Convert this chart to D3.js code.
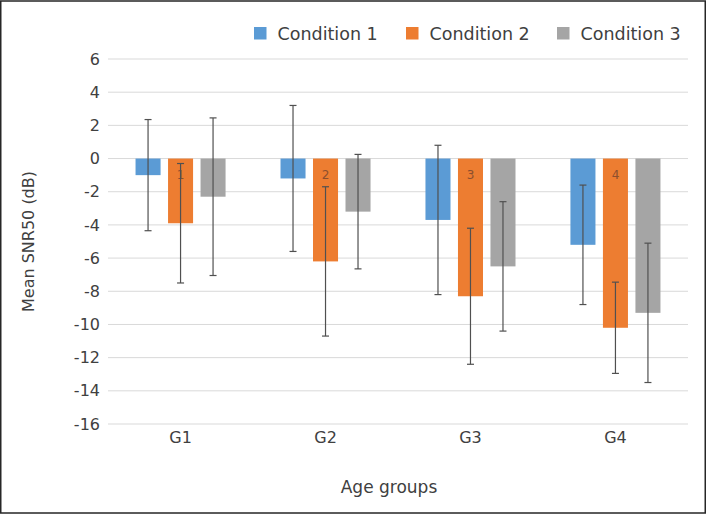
<!DOCTYPE html>
<html>
<head>
<meta charset="utf-8">
<script src="https://cdn.jsdelivr.net/npm/d3@7/dist/d3.min.js"></script>
<style>
	body { margin: 0; background: #fff; }
	svg text { font-family: "DejaVu Sans", sans-serif; fill: #404040; }
</style>
</head>
<body>
<svg id="chart" width="707" height="515"></svg>
<script>
"use strict";

var groups = ["G1", "G2", "G3", "G4"];
var conditions = ["Condition 1", "Condition 2", "Condition 3"];
var colors = ["#5B9BD5", "#ED7D31", "#A5A5A5"];

// mean SNR50 per condition, one entry per age group
var cond1_mean = [-1.0, -1.2, -3.7, -5.2];
var cond2_mean = [-3.9, -6.2, -8.3, -10.2];
var cond3_mean = [-2.3, -3.2, -6.5, -9.3];

// error bar half-widths
var cond1_err = [3.35, 4.4, 4.5, 3.6];
var cond2_err = [3.6, 4.5, 4.1, 2.75];
var cond3_err = [4.75, 3.45, 3.9, 4.2];

// labels printed inside condition 2 bars
var bar_labels = ["1", "2", "3", "4"];

var y_ticks = [6, 4, 2, 0, -2, -4, -6, -8, -10, -12, -14, -16];

var means = [cond1_mean, cond2_mean, cond3_mean];
var errs = [cond1_err, cond2_err, cond3_err];

var svg = d3.select("#chart");
var margin = {left: 108, right: 19, top: 59, bottom: 91};
var width = 707 - margin.left - margin.right;
var height = 515 - margin.top - margin.bottom;

// frame
svg.append("rect")
	.attr("x", 0.75).attr("y", 1)
	.attr("width", 704.5).attr("height", 512)
	.attr("fill", "none")
	.attr("stroke", "#262626")
	.attr("stroke-width", 1.5);

var g = svg.append("g")
	.attr("transform", "translate(" + margin.left + "," + margin.top + ")");

var y = d3.scaleLinear().domain([-16, 6]).range([height, 0]);
var x0 = d3.scaleBand().domain(groups).range([0, width]).paddingInner(0.379).paddingOuter(0.19);
var x1 = d3.scaleBand().domain(d3.range(conditions.length)).range([0, x0.bandwidth()]).paddingInner(0.23);

// gridlines
g.append("g")
	.selectAll("line")
	.data(y_ticks)
	.enter().append("line")
		.attr("x1", 0).attr("x2", width)
		.attr("y1", function(d) { return y(d); })
		.attr("y2", function(d) { return y(d); })
		.attr("stroke", "#d9d9d9")
		.attr("stroke-width", 1);

// y axis labels (plain hyphen for negatives)
var yAxis = d3.axisLeft(y).tickValues(y_ticks).tickSize(0).tickPadding(8)
	.tickFormat(function(d) { return String(d); });
var ya = g.append("g").call(yAxis);
ya.select(".domain").remove();
ya.selectAll("text")
	.style("font-size", "16px")
	.style("font-family", "DejaVu Sans, sans-serif")
	.attr("fill", "#404040");

// x axis labels
var xAxis = d3.axisBottom(x0).tickSize(0).tickPadding(8);
var xa = g.append("g").attr("transform", "translate(0," + height + ")").call(xAxis);
xa.select(".domain").remove();
xa.selectAll("text")
	.style("font-size", "16px")
	.style("font-family", "DejaVu Sans, sans-serif")
	.attr("fill", "#404040");

// bars
var rows = [];
for (var c = 0; c < conditions.length; c++) {
	for (var i = 0; i < groups.length; i++) {
		rows.push({c: c, group: groups[i], i: i, mean: means[c][i], err: errs[c][i]});
	}
}

g.append("g")
	.selectAll("rect")
	.data(rows)
	.enter().append("rect")
		.attr("x", function(d) { return x0(d.group) + x1(d.c); })
		.attr("width", x1.bandwidth())
		.attr("y", function(d) { return y(Math.max(0, d.mean)); })
		.attr("height", function(d) { return Math.abs(y(d.mean) - y(0)); })
		.attr("fill", function(d) { return colors[d.c]; });

// labels inside condition 2 bars
g.append("g")
	.selectAll("text")
	.data(groups)
	.enter().append("text")
		.attr("x", function(d) { return x0(d) + x1(1) + x1.bandwidth() / 2; })
		.attr("y", y(0) + 20)
		.attr("text-anchor", "middle")
		.style("font-size", "12px")
		.style("fill", "#8c4f2e")
		.text(function(d, i) { return bar_labels[i]; });

// error bars
var eb = g.append("g")
	.selectAll("g")
	.data(rows)
	.enter().append("g")
		.attr("stroke", "#505050")
		.attr("stroke-width", 1.2);
eb.append("line")
	.attr("x1", function(d) { return x0(d.group) + x1(d.c) + x1.bandwidth() / 2; })
	.attr("x2", function(d) { return x0(d.group) + x1(d.c) + x1.bandwidth() / 2; })
	.attr("y1", function(d) { return y(d.mean + d.err); })
	.attr("y2", function(d) { return y(d.mean - d.err); });
[1, -1].forEach(function(s) {
	eb.append("line")
		.attr("x1", function(d) { return x0(d.group) + x1(d.c) + x1.bandwidth() / 2 - 3.5; })
		.attr("x2", function(d) { return x0(d.group) + x1(d.c) + x1.bandwidth() / 2 + 3.5; })
		.attr("y1", function(d) { return y(d.mean + s * d.err); })
		.attr("y2", function(d) { return y(d.mean + s * d.err); });
});

// axis titles
svg.append("text")
	.attr("transform", "translate(34," + (margin.top + y(-5)) + ") rotate(-90)")
	.attr("text-anchor", "middle")
	.style("font-size", "16px")
	.text("Mean SNR50 (dB)");

svg.append("text")
	.attr("x", margin.left + width / 2 - 9)
	.attr("y", 493)
	.attr("text-anchor", "middle")
	.style("font-size", "17px")
	.text("Age groups");

// legend
var legend_x = [254, 406, 557];
var lg = svg.append("g")
	.selectAll("g")
	.data(conditions)
	.enter().append("g")
		.attr("transform", function(d, i) { return "translate(" + legend_x[i] + ",27)"; });
lg.append("rect")
	.attr("width", 12.5).attr("height", 12.5)
	.attr("fill", function(d, i) { return colors[i]; });
lg.append("text")
	.attr("x", 23.5)
	.attr("y", 12.5)
	.style("font-size", "17.5px")
	.text(function(d) { return d; });
</script>
</body>
</html>
